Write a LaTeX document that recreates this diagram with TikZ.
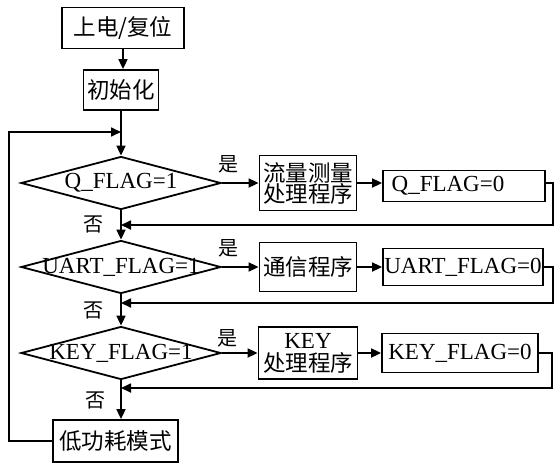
\documentclass[tikz,border=0pt]{standalone}
\usepackage{fontspec}
\setmainfont{Liberation Serif}
\newfontfamily\cjk{Noto Sans CJK SC}
\usetikzlibrary{arrows.meta,shapes.geometric}
\begin{document}
\begin{tikzpicture}[x=1pt,y=-1pt,
  box/.style={draw, rectangle, inner sep=0pt, line width=1.8pt},
  dia/.style={draw, diamond, inner sep=0pt, minimum width=200pt, minimum height=53pt, line width=1.8pt},
  arr/.style={-{Triangle[length=10pt,width=9pt]}, line width=1.7pt},
  zh/.style={font=\cjk\fontsize{22.5}{24}\selectfont, align=center},
  en/.style={font=\fontsize{23}{24}\selectfont},
  lab/.style={font=\cjk\fontsize{20}{22}\selectfont, inner sep=0pt}
]
\useasboundingbox (0,0) rectangle (556,466);

% main column
\node[box, zh, minimum width=122pt, minimum height=41pt] (start) at (123,28) {上电/复位};
\node[box, zh, minimum width=75pt, minimum height=40pt] (init) at (121,90) {初始化};
\coordinate (j0) at (121,132);

\node[dia, label={[en]center:Q\_FLAG=1}] (d1) at (121,183) {};
\node[dia, label={[en]center:UART\_FLAG=1}] (d2) at (121,267) {};
\node[dia, label={[en]center:KEY\_FLAG=1}] (d3) at (121,353) {};
\node[box, zh, minimum width=125pt, minimum height=42pt] (low) at (115.5,441) {低功耗模式};

% right side processing
\node[box, zh, minimum width=97pt, minimum height=55pt] (p1) at (308,183) {流量测量\\[-3pt]处理程序};
\node[box, en, minimum width=162pt, minimum height=31pt] (q0) at (464,186) {Q\_FLAG=0\kern32pt};
\node[box, zh, minimum width=97pt, minimum height=49pt] (p2) at (308,267) {通信程序};
\node[box, en, minimum width=160pt, minimum height=37pt] (u0) at (463,267) {UART\_FLAG=0};
\node[box, zh, minimum width=99pt, minimum height=52pt] (p3) at (308,353) {{\rmfamily\fontsize{23}{24}\selectfont KEY}\\[-1pt]处理程序};
\node[box, en, minimum width=156pt, minimum height=39pt] (k0) at (460,353) {KEY\_FLAG=0};

\coordinate (j1) at (121,225);
\coordinate (j2) at (121,303);
\coordinate (j3) at (121,388);

% arrows
\draw[arr] (start.south) -- (start.south |- init.north);
\draw[arr] (init.south) -- (d1.north);
\draw[arr] (d1.south) -- (d2.north);
\draw[arr] (d2.south) -- (d3.north);
\draw[arr] (d3.south) -- (d3.south |- low.north);
\draw[arr] (low.west) -- ++(-43,0) |- (j0);

\draw[arr] (d1.east) -- (p1.west);
\draw[arr] (p1.east) -- (p1.east -| q0.west);
\draw[arr] (q0.east |- p1.east) -- (553,183) |- (j1);

\draw[arr] (d2.east) -- (p2.west);
\draw[arr] (p2.east) -- (u0.west);
\draw[arr] (u0.east) -- (553,267) |- (j2);

\draw[arr] (d3.east) -- (p3.west);
\draw[arr] (p3.east) -- (k0.west);
\draw[arr] (k0.east) -- (552,353) |- (j3);

% labels
\node[lab] (y1) at (228,164) {是};
\node[lab] (y2) at (228,248) {是};
\node[lab] (y3) at (227,338) {是};
\node[lab] (n1) at (93,224) {否};
\node[lab] (n2) at (93,310) {否};
\node[lab] (n3) at (95,400) {否};
\end{tikzpicture}
\end{document}
